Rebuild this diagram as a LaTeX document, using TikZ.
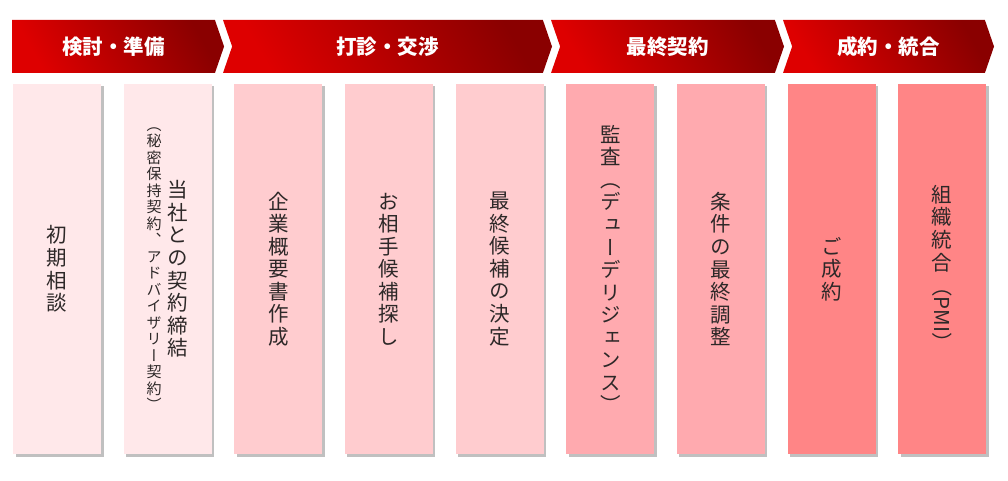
\documentclass[tikz,border=0pt]{standalone}
\usepackage{fontspec}
\usepackage{graphicx}
\usetikzlibrary{shapes.symbols,shadows,positioning}

\newfontfamily\jph{Noto Sans CJK JP}
\newfontfamily\jpv{Noto Sans CJK JP}[RawFeature={+vert}]

\definecolor{hdrdark}{RGB}{138,0,0}
\definecolor{hdrlight}{RGB}{222,0,0}
\definecolor{pinkA}{RGB}{255,232,234}
\definecolor{pinkB}{RGB}{255,204,207}
\definecolor{pinkC}{RGB}{255,170,175}
\definecolor{pinkD}{RGB}{255,133,134}
\definecolor{inkgray}{RGB}{45,40,40}

% vertical text, one character under the other
\newcommand\tate[1]{\vbox{\baselineskip=1.1em\lineskiplimit=0pt\lineskip=.1em\tatechar#1\relax}}
\def\tatechar#1{\ifx\relax#1\else\hbox to 1em{\hss#1\hss}\expandafter\tatechar\fi}
\newcommand\yoko[1]{\raisebox{.8em}{\rotatebox{-90}{\jph#1}}}

\begin{document}
\begin{tikzpicture}[x=1pt, y=-1pt]

    \tikzstyle{stagehead} = [signal, signal to=east, signal from=west, signal pointer angle=142, minimum height=53pt, inner sep=0pt, text=white, font=\jph\bfseries\fontsize{20.5}{24}\selectfont, top color=hdrdark, bottom color=hdrlight, shading angle=-60]
    \tikzstyle{stepbox} = [rectangle, minimum width=88pt, minimum height=370pt, inner sep=0pt, text=inkgray, font=\jpv\fontsize{20.5}{24}\selectfont, drop shadow={shadow xshift=2.5pt, shadow yshift=-2.5pt, fill=black!55, opacity=.45}]
    \tikzstyle{tatesmall} = [inner sep=0pt, text=inkgray, font=\jpv\fontsize{15}{17}\selectfont]
    \tikzstyle{tatetext} = [inner sep=0pt, text=inkgray, font=\jpv\fontsize{20.5}{24}\selectfont]

    \useasboundingbox (0,0) rectangle (1008,481);

    \node (prepare)  [stagehead, signal from=nowhere, minimum width=212pt]  at (113.5,46.5) {検討・準備};
    \node (approach) [stagehead, minimum width=329pt]                       at (387.5,46.5) {打診・交渉};
    \node (contract) [stagehead, minimum width=233pt]                       at (667.5,46.5) {最終契約};
    \node (merge)    [stagehead, minimum width=211pt]                       at (888.5,46.5) {成約・統合};

    \node (consult)  [stepbox, fill=pinkA]                          at (57,269) {\tate{初期相談}};
    \node (nda)      [stepbox, fill=pinkA, right=22.25pt of consult]  {};
    \node (profile)  [stepbox, fill=pinkB, right=22.25pt of nda]      {\tate{企業概要書作成}};
    \node (search)   [stepbox, fill=pinkB, right=22.25pt of profile]  {\tate{お相手候補探し}};
    \node (shortlist)[stepbox, fill=pinkB, right=22.25pt of search]   {\tate{最終候補の決定}};
    \node (audit)    [stepbox, fill=pinkC, right=22.25pt of shortlist]{\tate{監査（デューデリジェンス）}};
    \node (terms)    [stepbox, fill=pinkC, right=22.25pt of audit]    {\tate{条件の最終調整}};
    \node (signing)  [stepbox, fill=pinkD, right=22.25pt of terms]    {\tate{ご成約}};
    \node (pmi)      [stepbox, fill=pinkD, right=22.25pt of signing]  {\tate{組織統合{\yoko{（PMI）}}}};

    \node (ndamain)  [tatetext]  at ([xshift=10.5pt]nda.center)  {\tate{当社との契約締結}};
    \node (ndanote)  [tatesmall] at ([xshift=-13.5pt]nda.center) {\tate{（秘密保持契約、アドバイザリー契約）}};

\end{tikzpicture}
\end{document}
